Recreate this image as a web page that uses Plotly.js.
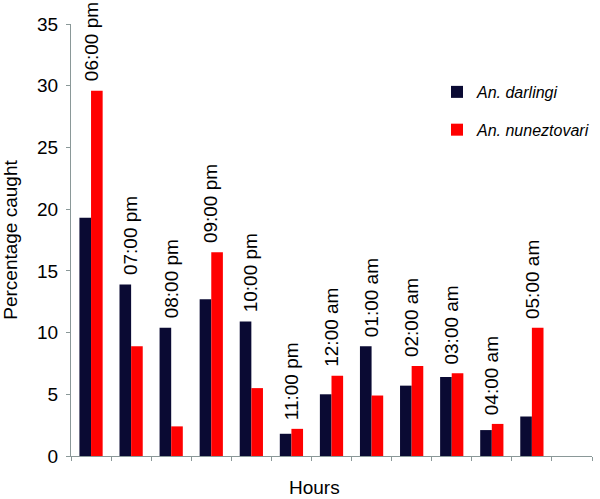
<!DOCTYPE html>
<html>
<head>
<meta charset="utf-8">
<script src="https://cdn.plot.ly/plotly-3.0.1.min.js"></script>
<style>html,body{margin:0;padding:0;background:#fff;}#chart{width:600px;height:499px;}</style>
</head>
<body>
<div id="chart"></div>
<script>
var hours = ["06:00 pm","07:00 pm","08:00 pm","09:00 pm","10:00 pm","11:00 pm","12:00 am","01:00 am","02:00 am","03:00 am","04:00 am","05:00 am"];
var darlingi = [19.3, 13.9, 10.4, 12.7, 10.9, 1.8, 5.0, 8.9, 5.7, 6.4, 2.1, 3.2];
var nuneztovari = [29.6, 8.9, 2.4, 16.5, 5.5, 2.2, 6.5, 4.9, 7.3, 6.7, 2.6, 10.4];
var seriesNames = ["An. darlingi", "An. nuneztovari"];
var yTicks = [0, 5, 10, 15, 20, 25, 30, 35];

var idx = hours.map(function(_, i){ return i; });
var nSlots = hours.length + 1; // one empty slot at the end, as in the reference
var boundaries = [];
for (var b = 0; b <= nSlots; b++) boundaries.push(b - 0.5);

var font = "Liberation Sans, Arial, sans-serif";

var traces = [
  {type:"bar", x: idx, y: darlingi, name: seriesNames[0], legendgroup:"a",
   marker:{color:"#0a0a33"}, hoverinfo:"y"},
  {type:"bar", x: idx, y: nuneztovari, name: seriesNames[1], legendgroup:"b",
   marker:{color:"#ff0000"}, hoverinfo:"y"}
];

var annotations = hours.map(function(h, i){
  return {x: i, y: Math.max(darlingi[i], nuneztovari[i]), xref:"x", yref:"y",
    text: h, textangle: -90, showarrow:false, xanchor:"center", yanchor:"bottom",
    yshift: 7, font:{family:font, size:19, color:"#000"}};
});
annotations.push({x: 0.468, y: -0.073, xref:"paper", yref:"paper", text:"Hours",
  showarrow:false, yanchor:"middle", font:{family:font, size:19, color:"#000"}});

var layout = {
  width:600, height:499,
  margin:{l:71, r:8, t:24, b:43, autoexpand:false},
  paper_bgcolor:"#fff", plot_bgcolor:"#fff",
  barmode:"group", bargap:0.42, bargroupgap:0,
  font:{family:font, size:19, color:"#000"},
  xaxis:{range:[-0.5, nSlots - 0.5], tickmode:"array", tickvals: boundaries, ticktext: boundaries.map(function(){return "";}),
    showticklabels:false, ticks:"outside", ticklen:4, tickcolor:"#8a9898", showline:true, linecolor:"#8a9898",
    linewidth:1, showgrid:false, zeroline:false, fixedrange:true},
  yaxis:{range:[0,35], tickmode:"array", tickvals:yTicks, ticks:"outside", ticklen:4, tickcolor:"#8a9898",
    showline:true, linecolor:"#8a9898", linewidth:1, showgrid:false, zeroline:false,
    ticklabelstandoff:4, tickfont:{family:font, size:19, color:"#000"},
    title:{text:"Percentage caught", font:{family:font, size:19, color:"#000"}, standoff:14}},
  legend:{x:0.7025, y:0.882, xanchor:"left", yanchor:"top", traceorder:"grouped", tracegroupgap:14,
    font:{family:font, size:16, color:"#000", style:"italic"}, bgcolor:"rgba(0,0,0,0)"},
  annotations: annotations,
  showlegend:true
};

Plotly.newPlot("chart", traces, layout, {displayModeBar:false, staticPlot:true});
</script>
</body>
</html>
